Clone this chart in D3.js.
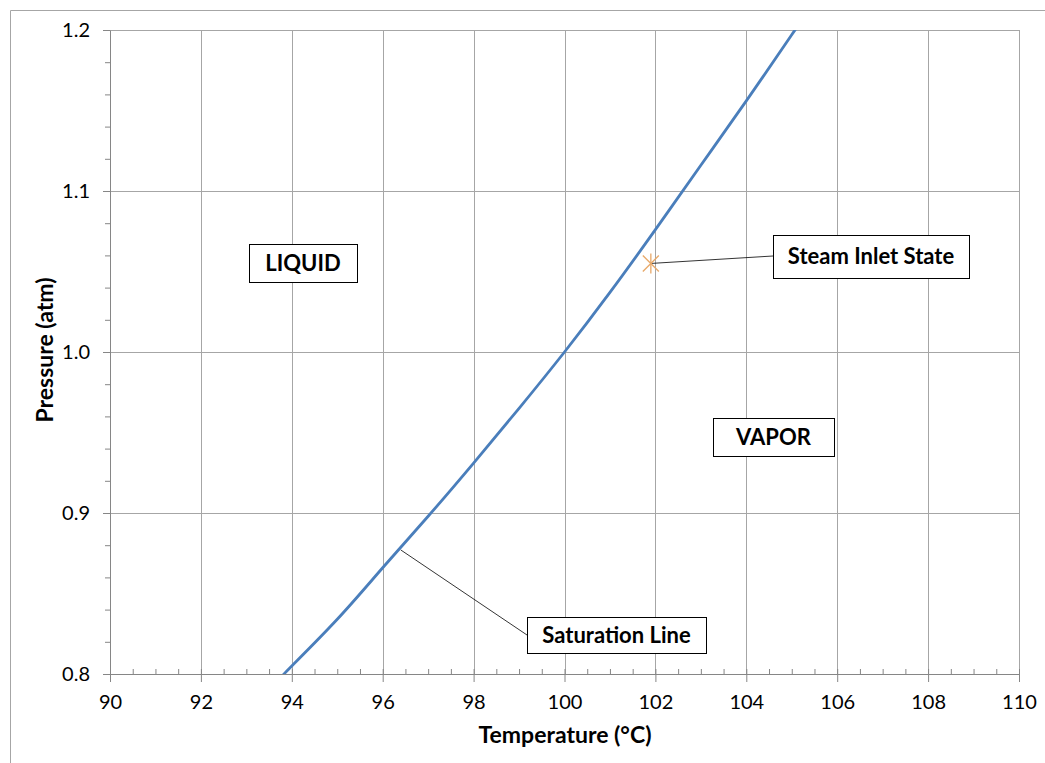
<!DOCTYPE html>
<html>
<head>
<meta charset="utf-8">
<script src="https://cdn.jsdelivr.net/npm/d3@7"></script>
<style>
  body { margin: 0; background: #fff; }
  text { font-family: Lato, "Open Sans", sans-serif; fill: #000; }
</style>
</head>
<body>
<script>
// saturation line of water
const tempC = [93.8, 94, 95, 96, 97, 98, 99, 100, 101, 102, 103, 104, 105, 105.07];
const pressAtm = [0.799, 0.805, 0.834, 0.866, 0.898, 0.931, 0.965, 1.0, 1.037, 1.076, 1.116, 1.156, 1.197, 1.2];

// steam inlet state point
const inletT = [101.9];
const inletP = [1.055];

const xTicks = [90, 92, 94, 96, 98, 100, 102, 104, 106, 108, 110];
const yTicks = [0.8, 0.9, 1.0, 1.1, 1.2];
const xMinor = d3.range(90, 110.01, 0.5);
const yMinor = d3.range(0.8, 1.2001, 0.02);

const width = 1045, height = 763;
const svg = d3.select("body").append("svg")
  .attr("width", width)
  .attr("height", height);

// outer chart frame (partially cropped)
svg.append("path")
  .attr("d", "M10.5,763 V10.5 H1045")
  .attr("fill", "none")
  .attr("stroke", "#a6a6a6")
  .attr("stroke-width", 1);

const x = d3.scaleLinear().domain([90, 110]).range([110, 1019]);
const y = d3.scaleLinear().domain([0.8, 1.2]).range([674, 30]);

svg.append("clipPath").attr("id", "plot")
  .append("rect")
  .attr("x", x(90)).attr("y", y(1.2))
  .attr("width", x(110) - x(90)).attr("height", y(0.8) - y(1.2));

// gridlines
svg.append("g").selectAll("line")
  .data(xTicks.slice(1))
  .join("line")
  .attr("x1", d => Math.round(x(d)) + 0.5).attr("x2", d => Math.round(x(d)) + 0.5)
  .attr("y1", y(1.2)).attr("y2", y(0.8))
  .attr("stroke", "#a6a6a6");
svg.append("g").selectAll("line")
  .data(yTicks.slice(1))
  .join("line")
  .attr("x1", x(90)).attr("x2", x(110))
  .attr("y1", d => Math.round(y(d)) + 0.5).attr("y2", d => Math.round(y(d)) + 0.5)
  .attr("stroke", "#a6a6a6");

// x axis
svg.append("g")
  .attr("transform", `translate(0,${y(0.8)})`)
  .call(d3.axisBottom(x).tickValues(xTicks).tickSize(8).tickSizeOuter(0).tickPadding(13));
svg.append("g")
  .attr("transform", `translate(0,${y(0.8)})`)
  .call(d3.axisTop(x).tickValues(xMinor).tickSize(5).tickSizeOuter(0).tickFormat(""))
  .call(g => g.select(".domain").remove());

// y axis
svg.append("g")
  .attr("transform", `translate(${x(90)},0)`)
  .call(d3.axisLeft(y).tickValues(yTicks).tickSize(7).tickSizeOuter(0).tickPadding(13)
    .tickFormat(d3.format(".1f")));
svg.append("g")
  .attr("transform", `translate(${x(90)},0)`)
  .call(d3.axisLeft(y).tickValues(yMinor).tickSize(5).tickSizeOuter(0).tickFormat(""))
  .call(g => g.select(".domain").remove());

svg.selectAll(".domain, .tick line").attr("stroke", "#868686");
svg.selectAll(".tick text").attr("font-size", 20).attr("fill", "#000");

// axis titles
svg.append("text")
  .attr("x", 565).attr("y", 743)
  .attr("text-anchor", "middle")
  .attr("font-size", 23).attr("font-weight", "bold")
  .text("Temperature (°C)");
svg.append("text")
  .attr("transform", "translate(53,350) rotate(-90)")
  .attr("text-anchor", "middle")
  .attr("font-size", 23).attr("font-weight", "bold")
  .text("Pressure (atm)");

// saturation line
const sat = tempC.map((t, i) => [t, pressAtm[i]]);
svg.append("path")
  .datum(sat)
  .attr("clip-path", "url(#plot)")
  .attr("fill", "none")
  .attr("stroke", "#4a7ebb")
  .attr("stroke-width", 2.8)
  .attr("d", d3.line().x(d => x(d[0])).y(d => y(d[1])).curve(d3.curveNatural));

// leader lines
function leader(x1, y1, x2, y2) {
  svg.append("line")
    .attr("x1", x1).attr("y1", y1).attr("x2", x2).attr("y2", y2)
    .attr("stroke", "#000").attr("stroke-width", 0.8);
}
leader(x(inletT[0]), y(inletP[0]), 773, 256);
leader(x(96.4), y(0.877), 527, 635);

// steam inlet marker (asterisk)
const sx = x(inletT[0]), sy = y(inletP[0]);
const star = svg.append("g").attr("stroke", "#e8a868").attr("stroke-width", 1.3);
star.append("line").attr("x1", sx - 8).attr("y1", sy - 8).attr("x2", sx + 8).attr("y2", sy + 8);
star.append("line").attr("x1", sx - 8).attr("y1", sy + 8).attr("x2", sx + 8).attr("y2", sy - 8);
star.append("line").attr("x1", sx).attr("y1", sy - 10).attr("x2", sx).attr("y2", sy + 10);

// label boxes
function labelBox(x0, y0, w, h, txt) {
  svg.append("rect")
    .attr("x", x0 + 0.5).attr("y", y0 + 0.5).attr("width", w).attr("height", h)
    .attr("fill", "#fff").attr("stroke", "#000").attr("stroke-width", 1);
  svg.append("text")
    .attr("x", x0 + w / 2).attr("y", y0 + h / 2)
    .attr("dy", "0.36em")
    .attr("text-anchor", "middle")
    .attr("font-size", 22).attr("font-weight", "bold")
    .text(txt);
}
labelBox(249, 244, 108, 38, "LIQUID");
labelBox(713, 418, 121, 38, "VAPOR");
labelBox(773, 235, 196, 43, "Steam Inlet State");
labelBox(527, 617, 179, 36, "Saturation Line");
</script>
</body>
</html>
